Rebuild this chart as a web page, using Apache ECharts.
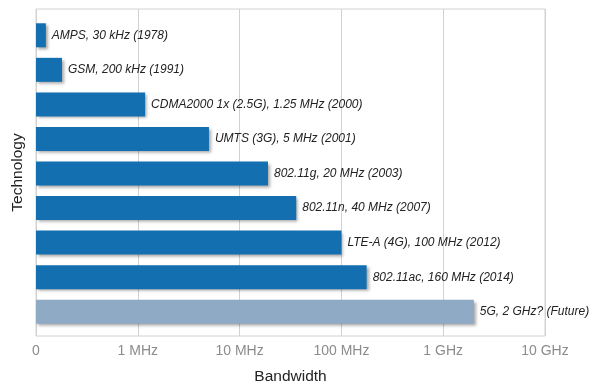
<!DOCTYPE html>
<html>
<head>
<meta charset="utf-8">
<script src="https://cdn.jsdelivr.net/npm/echarts@6/dist/echarts.min.js"></script>
<style>
html,body{margin:0;padding:0;background:#fff;}
#chart{width:595px;height:391px;}
</style>
</head>
<body>
<div id="chart"></div>
<script>
var categories = [
  "AMPS, 30 kHz (1978)",
  "GSM, 200 kHz (1991)",
  "CDMA2000 1x (2.5G), 1.25 MHz (2000)",
  "UMTS (3G), 5 MHz (2001)",
  "802.11g, 20 MHz (2003)",
  "802.11n, 40 MHz (2007)",
  "LTE-A (4G), 100 MHz (2012)",
  "802.11ac, 160 MHz (2014)",
  "5G, 2 GHz? (Future)"
];
var bandwidthMHz = [0.125, 0.18, 1.18, 5, 19, 36, 100, 177, 2000];
var isFuture = [false, false, false, false, false, false, false, false, true];
var tickValues = [0.1, 1, 10, 100, 1000, 10000];
var tickLabels = ["0", "1 MHz", "10 MHz", "100 MHz", "1 GHz", "10 GHz"];

var FONT = "'Liberation Sans', Arial, sans-serif";
var chart = echarts.init(document.getElementById('chart'), null, {renderer: 'canvas'});

function tickLabel(v) {
  for (var i = 0; i < tickValues.length; i++) {
    if (Math.abs(Math.log10(v) - Math.log10(tickValues[i])) < 1e-6) return tickLabels[i];
  }
  return '';
}

var seriesData = bandwidthMHz.map(function (v, i) {
  return {
    value: v,
    itemStyle: { color: isFuture[i] ? '#8eaac4' : '#136fb0' }
  };
});

chart.setOption({
  animation: false,
  backgroundColor: '#ffffff',
  grid: [
    { left: 36, right: 50, top: 9, bottom: 55, show: true, borderColor: '#d2d2d2', borderWidth: 1, backgroundColor: 'transparent' },
    { left: 36, right: 50, top: 18, bottom: 62 }
  ],
  xAxis: [
    {
      gridIndex: 0, type: 'log', logBase: 10, min: tickValues[0], max: tickValues[tickValues.length - 1],
      axisLine: { show: false }, axisTick: { show: false },
      splitLine: { show: true, lineStyle: { color: '#d2d2d2', width: 1 } },
      axisLabel: { formatter: tickLabel, color: '#8c8c8c', fontSize: 14, fontFamily: FONT, margin: 8 },
      name: 'Bandwidth', nameLocation: 'middle', nameGap: 33,
      nameTextStyle: { color: '#222', fontSize: 15.5, fontFamily: FONT }
    },
    {
      gridIndex: 1, type: 'log', logBase: 10, min: tickValues[0], max: tickValues[tickValues.length - 1],
      startValue: tickValues[0],
      show: false
    }
  ],
  yAxis: [
    {
      gridIndex: 0, type: 'value', min: 0, max: 1,
      axisLine: { show: false }, axisTick: { show: false }, axisLabel: { show: false }, splitLine: { show: false },
      name: 'Technology', nameLocation: 'middle', nameGap: 10, nameRotate: 90,
      nameTextStyle: { color: '#222', fontSize: 15.5, fontFamily: FONT }
    },
    {
      gridIndex: 1, type: 'category', inverse: true, data: categories, show: false
    }
  ],
  series: [
    {
      type: 'bar',
      xAxisIndex: 1, yAxisIndex: 1,
      data: seriesData,
      barWidth: 24,
      itemStyle: {
        shadowColor: 'rgba(0,0,0,0.35)', shadowBlur: 3, shadowOffsetX: 2, shadowOffsetY: 2
      },
      label: {
        show: true, position: 'right', distance: 6,
        formatter: function (p) { return categories[p.dataIndex]; },
        color: '#222', fontSize: 12, fontStyle: 'italic', fontFamily: FONT
      }
    }
  ]
});
</script>
</body>
</html>
